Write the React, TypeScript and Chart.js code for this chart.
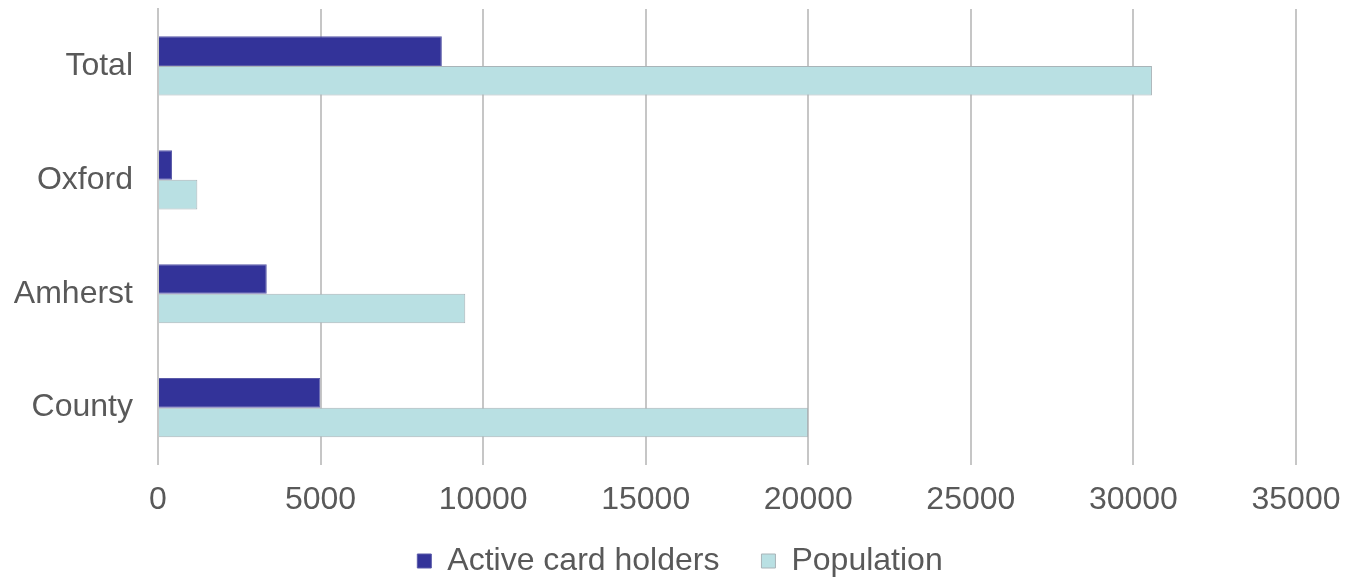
import React, { useEffect, useRef } from "react";
import { Chart, registerables } from "chart.js";

Chart.register(...registerables);

const categories = ["Total", "Oxford", "Amherst", "County"];
const activeCardHolders = [8730, 430, 3345, 4990];
const population = [30570, 1210, 9450, 19990];
const xTicks = [0, 5000, 10000, 15000, 20000, 25000, 30000, 35000];

const FONT = "'Liberation Sans', Arial, sans-serif";
const LEGEND_LIFT = 32;

const legendLift = {
  id: "legendLift",
  beforeLayout(chart: any) {
    const lg = chart.legend;
    if (lg && !lg._lifted) {
      const fit = lg.fit;
      lg.fit = function () {
        fit.call(this);
        this.height = Math.max(0, this.height - LEGEND_LIFT);
      };
      lg._lifted = true;
    }
  },
  afterLayout(chart: any) {
    const lg = chart.legend;
    if (lg) {
      lg.top -= LEGEND_LIFT;
      lg.height += LEGEND_LIFT;
    }
  },
};

export default function App() {
  const ref = useRef<HTMLCanvasElement | null>(null);

  useEffect(() => {
    document.body.style.margin = "0";
    const ctx = ref.current!;
    const chart = new Chart(ctx, {
      type: "bar",
      data: {
        labels: categories,
        datasets: [
          {
            label: "Active card holders",
            data: activeCardHolders,
            backgroundColor: "#333399",
            borderColor: "#5a5aa8",
            borderWidth: 1,
            barPercentage: 1,
            categoryPercentage: 0.52,
          },
          {
            label: "Population",
            data: population,
            backgroundColor: "#b9e0e3",
            borderColor: "#a9b4b8",
            borderWidth: 1,
            barPercentage: 1,
            categoryPercentage: 0.52,
          },
        ],
      },
      plugins: [legendLift],
      options: {
        indexAxis: "y",
        animation: false,
        responsive: true,
        maintainAspectRatio: false,
        layout: { padding: { top: 9, right: 0, left: 14, bottom: -10 } },
        scales: {
          x: {
            min: 0,
            max: 35000,
            afterBuildTicks: (axis: any) => {
              axis.ticks = xTicks.map((v) => ({ value: v }));
            },
            afterFit: (s: any) => {
              s.paddingRight = 50;
            },
            grid: {
              color: "#c6c6c6",
              lineWidth: 2,
              drawTicks: false,
            },
            border: { display: false },
            ticks: {
              color: "#595959",
              font: { family: FONT, size: 32 },
              padding: 16,
              maxRotation: 0,
              callback: (v: any) => String(v),
            },
          },
          y: {
            afterFit: (s: any) => {
              s.paddingTop = 0;
              s.paddingBottom = 0;
              s.width = 144;
            },
            grid: { display: false, drawTicks: false },
            border: { display: true, color: "#c6c6c6", width: 2 },
            ticks: {
              color: "#595959",
              font: { family: FONT, size: 32 },
              padding: 25,
            },
          },
        },
        plugins: {
          legend: {
            position: "bottom",
            labels: {
              color: "#595959",
              font: { family: FONT, size: 32 },
              boxWidth: 14,
              boxHeight: 14,
              padding: 42,
            },
          },
          tooltip: { enabled: false },
        },
      },
    });
    return () => chart.destroy();
  }, []);

  return (
    <div style={{ position: "fixed", left: 0, top: 0, width: 1346, height: 577 }}>
      <canvas ref={ref} />
    </div>
  );
}
